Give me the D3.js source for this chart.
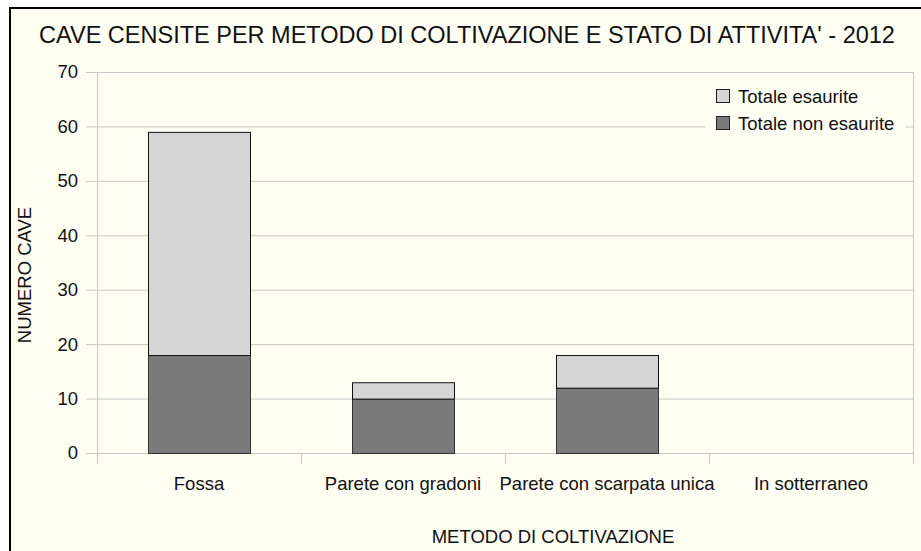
<!DOCTYPE html>
<html>
<head>
<meta charset="utf-8">
<script src="https://cdn.jsdelivr.net/npm/d3@7"></script>
<style>
  body { margin: 0; background: #ffffff; }
  text { font-family: "Liberation Sans", Arial, sans-serif; fill: #111; }
</style>
</head>
<body>
<svg id="chart" width="921" height="551"></svg>
<script>
// chart data
var categories = ["Fossa", "Parete con gradoni", "Parete con scarpata unica", "In sotterraneo"];
var nonEsaurite = [18, 10, 12, 0];
var esaurite = [41, 3, 6, 0];
var seriesNames = ["Totale esaurite", "Totale non esaurite"];
var yTicks = [0, 10, 20, 30, 40, 50, 60, 70];

var colors = { esaurite: "#d5d5d5", non: "#7a7a7a" };
var W = 921, H = 551;
var plotLeft = 97, plotRight = 913, plotTop = 72, plotBottom = 453;
var labelSize = "18.5px";

var svg = d3.select("#chart");

// frame
svg.append("rect")
  .attr("x", 10).attr("y", 8)
  .attr("width", W + 20).attr("height", H + 20)
  .attr("fill", "#fefef2")
  .attr("stroke", "#000")
  .attr("stroke-width", 2);

var x = d3.scaleBand()
  .domain(categories)
  .range([plotLeft, plotRight])
  .paddingInner(0.5)
  .paddingOuter(0.25);

var y = d3.scaleLinear()
  .domain([0, 70])
  .range([plotBottom, plotTop]);

// gridlines
svg.append("g")
  .selectAll("line")
  .data(yTicks)
  .enter()
  .append("line")
  .attr("x1", plotLeft - 11)
  .attr("x2", plotRight)
  .attr("y1", function(d) { return y(d) + 0.5; })
  .attr("y2", function(d) { return y(d) + 0.5; })
  .attr("stroke", "#c8c8c8")
  .attr("stroke-width", 1);

// plot frame sides
svg.append("line")
  .attr("x1", plotLeft + 0.5).attr("x2", plotLeft + 0.5)
  .attr("y1", plotTop).attr("y2", plotBottom + 11)
  .attr("stroke", "#c8c8c8");
svg.append("line")
  .attr("x1", plotRight + 0.5).attr("x2", plotRight + 0.5)
  .attr("y1", plotTop).attr("y2", plotBottom + 11)
  .attr("stroke", "#c8c8c8");

// category ticks
var step = x.step();
svg.append("g")
  .selectAll("line")
  .data(categories.slice(1))
  .enter()
  .append("line")
  .attr("x1", function(d) { return x(d) - step * 0.25 + 0.5; })
  .attr("x2", function(d) { return x(d) - step * 0.25 + 0.5; })
  .attr("y1", plotBottom)
  .attr("y2", plotBottom + 11)
  .attr("stroke", "#c8c8c8");

// y axis labels
var yAxis = d3.axisLeft(y).tickValues(yTicks).tickSize(0).tickPadding(19);
var gy = svg.append("g")
  .attr("transform", "translate(" + plotLeft + ",0)")
  .call(yAxis);
gy.select(".domain").remove();
gy.selectAll("text")
  .attr("font-size", labelSize)
  .attr("font-family", "Liberation Sans, Arial, sans-serif")
  .attr("fill", "#111");

// x axis labels
var xAxis = d3.axisBottom(x).tickSize(0).tickPadding(24);
var gx = svg.append("g")
  .attr("transform", "translate(0," + plotBottom + ")")
  .call(xAxis);
gx.select(".domain").remove();
gx.selectAll("text")
  .attr("font-size", labelSize)
  .attr("font-family", "Liberation Sans, Arial, sans-serif")
  .attr("fill", "#111");

// stacked bars
var stackData = categories.map(function(c, i) {
  return { cat: c, non: nonEsaurite[i], esa: esaurite[i] };
});

svg.append("g")
  .selectAll("rect")
  .data(stackData.filter(function(d) { return d.non > 0; }))
  .enter()
  .append("rect")
  .attr("x", function(d) { return x(d.cat) + 0.5; })
  .attr("y", function(d) { return y(d.non) + 0.5; })
  .attr("width", x.bandwidth())
  .attr("height", function(d) { return y(0) - y(d.non); })
  .attr("fill", colors.non)
  .attr("stroke", "#333")
  .attr("stroke-width", 1);

svg.append("g")
  .selectAll("rect")
  .data(stackData.filter(function(d) { return d.esa > 0; }))
  .enter()
  .append("rect")
  .attr("x", function(d) { return x(d.cat) + 0.5; })
  .attr("y", function(d) { return y(d.non + d.esa) + 0.5; })
  .attr("width", x.bandwidth())
  .attr("height", function(d) { return y(d.non) - y(d.non + d.esa); })
  .attr("fill", colors.esaurite)
  .attr("stroke", "#111")
  .attr("stroke-width", 1);

// title
svg.append("text")
  .attr("x", 467)
  .attr("y", 43)
  .attr("text-anchor", "middle")
  .attr("font-size", "23.5px")
  .text("CAVE CENSITE PER METODO DI COLTIVAZIONE E STATO DI ATTIVITA' - 2012");

// axis titles
svg.append("text")
  .attr("x", 553)
  .attr("y", 543)
  .attr("text-anchor", "middle")
  .attr("font-size", labelSize)
  .text("METODO DI COLTIVAZIONE");

svg.append("text")
  .attr("transform", "translate(31,275) rotate(-90)")
  .attr("text-anchor", "middle")
  .attr("font-size", labelSize)
  .text("NUMERO CAVE");

// legend
var legend = svg.append("g");
legend.append("rect")
  .attr("x", 705).attr("y", 82)
  .attr("width", 201).attr("height", 58)
  .attr("fill", "#fefef2");

var legendColors = [colors.esaurite, colors.non];
var rows = legend.selectAll("g.item")
  .data(seriesNames)
  .enter()
  .append("g")
  .attr("class", "item")
  .attr("transform", function(d, i) { return "translate(716," + (89 + i * 27) + ")"; });
rows.append("rect")
  .attr("x", 0.5).attr("y", 0.5)
  .attr("width", 13).attr("height", 13)
  .attr("fill", function(d, i) { return legendColors[i]; })
  .attr("stroke", "#222");
rows.append("text")
  .attr("x", 22)
  .attr("y", 14)
  .attr("font-size", labelSize)
  .text(function(d) { return d; });
</script>
</body>
</html>
